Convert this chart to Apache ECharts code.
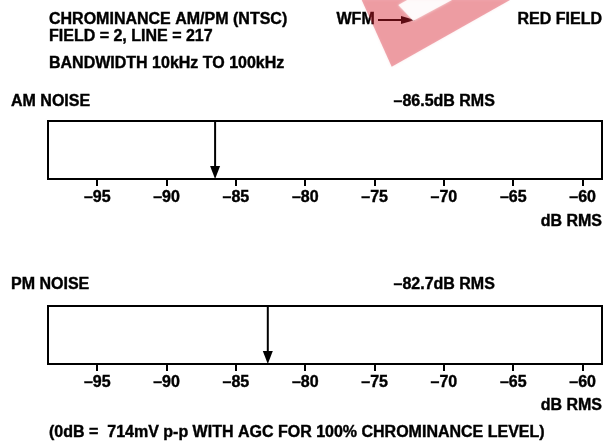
<!DOCTYPE html>
<html>
<head>
<meta charset="utf-8">
<script src="https://cdn.jsdelivr.net/npm/echarts@6/dist/echarts.min.js"></script>
<style>html,body{margin:0;padding:0;background:#fff}#c{width:605px;height:441px}</style>
</head>
<body>
<div id="c"></div>
<script>
// ---- data ----
const tickValues = [-95, -90, -85, -80, -75, -70, -65, -60];
const axisRange = [-98.55, -58.6];
const amNoise = [-86.5];
const pmNoise = [-82.7];
const titleLines = ['CHROMINANCE AM/PM (NTSC)', 'FIELD = 2, LINE = 217', 'BANDWIDTH 10kHz TO 100kHz'];
const panelNames = ['AM NOISE', 'PM NOISE'];
const unitLabel = 'dB RMS';
const footnote = '(0dB =  714mV p-p WITH AGC FOR 100% CHROMINANCE LEVEL)';

const FONT = '"Liberation Sans", Arial, Helvetica, sans-serif';
const FS = 16;
const dash = v => (v < 0 ? '\u2013' : '') + Math.abs(v);

const chart = echarts.init(document.getElementById('c'), null, {renderer: 'canvas'});

function xAxisFor(gi) {
  return {
    gridIndex: gi, type: 'value', min: axisRange[0], max: axisRange[1], position: 'bottom',
    axisLine: {show: true, lineStyle: {color: '#000', width: 2}},
    axisTick: {show: true, customValues: tickValues, length: 7, lineStyle: {color: '#000', width: 2}},
    axisLabel: {show: true, customValues: tickValues, formatter: dash, color: '#000',
      fontFamily: FONT, fontWeight: 'bold', fontSize: FS, margin: 11,
      textBorderColor: '#000', textBorderWidth: 0.4},
    splitLine: {show: false}
  };
}
function yAxisFor(gi) {
  return {gridIndex: gi, type: 'value', min: 0, max: 1, show: false};
}
function arrowSeries(gi, data) {
  return {
    type: 'custom', xAxisIndex: gi, yAxisIndex: gi, data: data.map(v => [v]),
    renderItem: function (params, api) {
      const v = api.value(0);
      const p0 = api.coord([v, 1]);
      const p1 = api.coord([v, 0]);
      const x = p0[0], top = p0[1], bot = p1[1];
      return {type: 'group', children: [
        {type: 'line', shape: {x1: x, y1: top, x2: x, y2: bot - 12}, style: {stroke: '#000', lineWidth: 2}},
        {type: 'polygon', shape: {points: [[x - 5, bot - 13], [x + 5, bot - 13], [x, bot]]}, style: {fill: '#000'}}
      ]};
    }
  };
}

const txt = (text, left, y, align) => ({
  type: 'text', x: left, y: y,
  style: {text: text, fill: '#000', stroke: '#000', lineWidth: 0.4,
    font: 'bold ' + FS + 'px ' + FONT, textAlign: align || 'left', textVerticalAlign: 'middle'}
});

chart.setOption({
  animation: false,
  backgroundColor: '#fff',
  grid: [
    {left: 48, right: 3, top: 121, height: 58, show: true, borderColor: '#000', borderWidth: 2, containLabel: false},
    {left: 48, right: 3, top: 306, height: 58, show: true, borderColor: '#000', borderWidth: 2, containLabel: false}
  ],
  xAxis: [xAxisFor(0), xAxisFor(1)],
  yAxis: [yAxisFor(0), yAxisFor(1)],
  series: [arrowSeries(0, amNoise), arrowSeries(1, pmNoise)],
  graphic: [
    txt(titleLines[0], 49, 20),
    txt(titleLines[1], 49, 36.5),
    txt(titleLines[2], 49, 63.5),
    txt('WFM', 336.5, 20),
    {type: 'line', shape: {x1: 378, y1: 20, x2: 403, y2: 20}, style: {stroke: '#000', lineWidth: 2}},
    {type: 'polygon', shape: {points: [[401, 16], [401, 24], [415, 20]]}, style: {fill: '#000'}},
    txt('RED FIELD', 602, 20, 'right'),
    txt(panelNames[0], 11, 102),
    txt(dash(amNoise[0]) + unitLabel, 393.5, 102),
    txt(unitLabel, 602, 222, 'right'),
    txt(panelNames[1], 11, 284.5),
    txt(dash(pmNoise[0]) + unitLabel, 393.5, 284.5),
    txt(unitLabel, 602, 406, 'right'),
    txt(footnote, 49, 432.5),
    {type: 'polygon', z: 100, shape: {points: [[361.7, 0], [391.7, 66.7], [510, 0]]},
      style: {fill: 'rgba(215,30,45,0.38)', shadowBlur: 3, shadowColor: 'rgba(215,30,45,0.25)'}},
    {type: 'polygon', z: 101, shape: {points: [[398.3, 5], [413.3, 20.7], [452, 0], [407.2, 0]]},
      style: {fill: 'rgba(255,255,255,0.85)', shadowBlur: 3, shadowColor: 'rgba(255,255,255,0.8)'}}
  ]
});
</script>
</body>
</html>
